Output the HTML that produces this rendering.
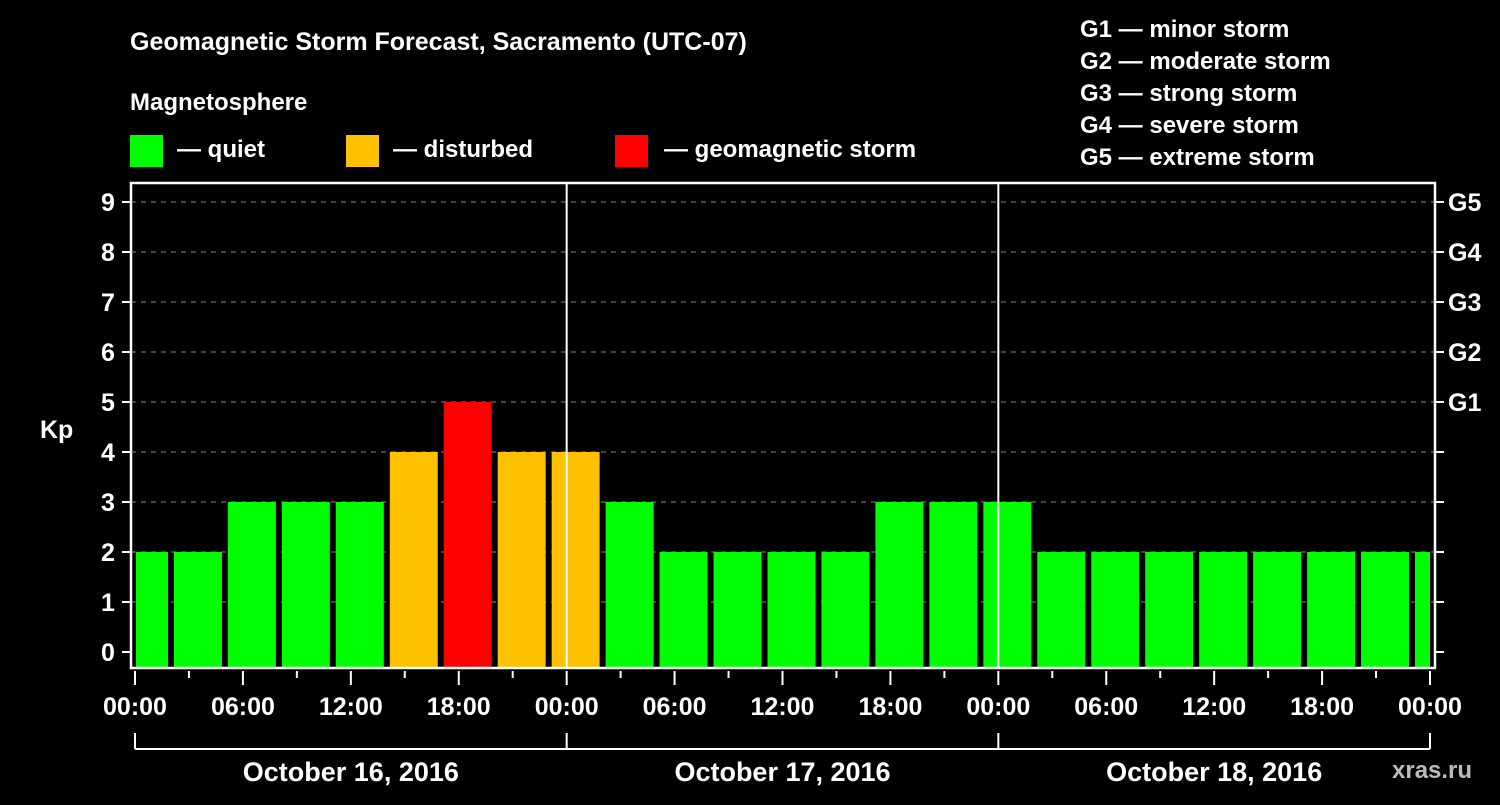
<!DOCTYPE html>
<html><head><meta charset="utf-8"><style>
html,body{margin:0;padding:0;background:#000;}
svg text{font-family:"Liberation Sans",Arial,sans-serif;font-weight:bold;fill:#fff;}
</style></head><body>
<svg width="1500" height="800" viewBox="0 0 1500 800" xmlns="http://www.w3.org/2000/svg">
<text x="130" y="50" font-size="25">Geomagnetic Storm Forecast, Sacramento (UTC-07)</text>
<text x="130" y="110" font-size="24">Magnetosphere</text>
<g>
<rect x="130" y="135" width="33" height="32" fill="#00ff00"/>
<text x="177" y="157" font-size="24">— quiet</text>
<rect x="346" y="135" width="33" height="32" fill="#ffc000"/>
<text x="393" y="157" font-size="24">— disturbed</text>
<rect x="615" y="135" width="33" height="32" fill="#ff0000"/>
<text x="664" y="157" font-size="24">— geomagnetic storm</text>
</g>
<g font-size="24">
<text x="1080" y="37">G1 — minor storm</text>
<text x="1080" y="69">G2 — moderate storm</text>
<text x="1080" y="101">G3 — strong storm</text>
<text x="1080" y="133">G4 — severe storm</text>
<text x="1080" y="165">G5 — extreme storm</text>
</g>
<g id="plot"></g>
<text x="40" y="438" font-size="25">Kp</text>
<text x="1392" y="778" font-size="24" fill="#aaa" style="fill:#bbb">xras.ru</text>
</svg>
<script>
const kpValues=[2,2,3,3,3,4,5,4,4,3,2,2,2,2,3,3,3,2,2,2,2,2,2,2,2];
const yTicks=[0,1,2,3,4,5,6,7,8,9];
const gLabels=["G1","G2","G3","G4","G5"];
const gLevels=[5,6,7,8,9];
const xTickLabels=["00:00","06:00","12:00","18:00","00:00","06:00","12:00","18:00","00:00","06:00","12:00","18:00","00:00"];
const dayLabels=["October 16, 2016","October 17, 2016","October 18, 2016"];
const NS="http://www.w3.org/2000/svg";
const X0=135,X1=1430,HOURS=72,YBOT=668,YTOP=183;
const xs=h=>X0+(X1-X0)*h/HOURS;
const ys=v=>652-50*v;
const g=document.getElementById('plot');
function mk(t,a){const e=document.createElementNS(NS,t);for(const k in a)e.setAttribute(k,a[k]);g.appendChild(e);return e;}
// grid
yTicks.forEach(v=>{if(v>0){const l=mk('line',{x1:X0-4,x2:X1+4,y1:ys(v),y2:ys(v),stroke:'#888','stroke-width':1,'stroke-dasharray':'5,5'});

}});
// bars
kpValues.forEach((v,i)=>{
 const s=Math.max(3*i-1,0),e=Math.min(3*i+2,HOURS);
 let xa=xs(s)+(i===0?1:3),xb=xs(e)-(3*i+2>HOURS?0:3);
 const c=v>=5?'#ff0000':(v>=4?'#ffc000':'#00ff00');
 const r=mk('rect',{x:xa,y:ys(v),width:xb-xa,height:YBOT-ys(v),fill:c});
 
 
});
// day dividers
[24,48].forEach(h=>{const l=mk('line',{x1:xs(h),x2:xs(h),y1:YTOP,y2:YBOT,stroke:'#fff','stroke-width':2});

});
// frame
const f=mk('rect',{x:131,y:YTOP,width:X1+5-131,height:YBOT-YTOP,fill:'none',stroke:'#fff','stroke-width':2.5});


// y ticks
yTicks.forEach(v=>{
 const l=mk('line',{x1:122,x2:131,y1:ys(v),y2:ys(v),stroke:'#fff','stroke-width':2});
 
 
 const r=mk('line',{x1:X1+5,x2:X1+14,y1:ys(v),y2:ys(v),stroke:'#fff','stroke-width':2});
 
 
 const t=mk('text',{x:108,y:ys(v)+9,'font-size':25,'text-anchor':'middle'});t.textContent=v;
 
 
});
gLabels.forEach((lab,i)=>{const t=mk('text',{x:1448,y:ys(gLevels[i])+9,'font-size':25});t.textContent=lab;
 
 });
// x ticks
for(let h=0;h<=HOURS;h+=3){const major=h%6===0;
 const l=mk('line',{x1:xs(h),x2:xs(h),y1:671,y2:major?685:678,stroke:'#fff','stroke-width':2});
 
 }
xTickLabels.forEach((lab,i)=>{const t=mk('text',{x:xs(i*6),y:715,'font-size':25,'text-anchor':'middle'});t.textContent=lab;
 
 });
// day bracket
const bl=mk('line',{x1:X0,x2:X1,y1:749,y2:749,stroke:'#fff','stroke-width':2});


[0,24,48,72].forEach(h=>{const l=mk('line',{x1:xs(h),x2:xs(h),y1:733,y2:749,stroke:'#fff','stroke-width':2});
 
 });
dayLabels.forEach((lab,i)=>{const t=mk('text',{x:xs(i*24+12),y:781,'font-size':27,'text-anchor':'middle'});t.textContent=lab;
 
 });
</script>
</body></html>
